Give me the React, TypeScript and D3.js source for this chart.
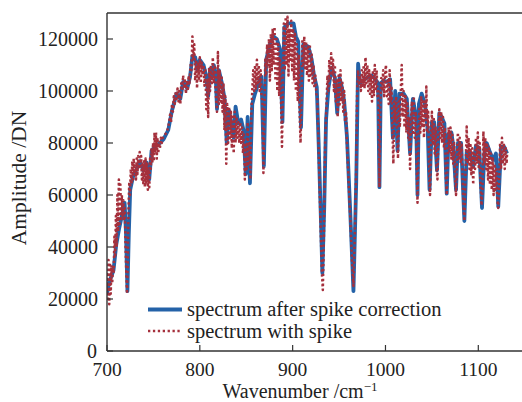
import React from "react";
import * as d3 from "d3";

const xTicks = [700, 800, 900, 1000, 1100];
const yTicks = [0, 20000, 40000, 60000, 80000, 100000, 120000];
const legendLabels = ["spectrum after spike correction", "spectrum with spike"];

// spectrum after spike correction: [wavenumber, amplitude]
const corrected: [number, number][] = [
  [700, 22000], [702, 26000], [704, 28000], [707, 31000], [710, 41000], [713, 47000], [716, 52000],
  [719, 57000], [720.5, 45000], [722, 23000], [723.5, 45000], [725, 62000], [728, 67000], [732, 70000],
  [735.5, 73000], [739, 69500], [742.5, 72500], [745.5, 66000], [748, 77000], [753, 79000], [757, 80000],
  [761, 81500], [766, 85000], [770, 92500], [775, 99000], [779, 97000], [782, 103500], [786.5, 101000],
  [789.5, 105500], [792, 113500], [795, 113000], [797.5, 108000], [800, 112000], [804, 110000],
  [807, 105500], [809, 98000], [811, 108500], [813, 106000], [815, 110000], [817, 107000], [818.5, 93000],
  [820.5, 108000], [823.5, 103500], [826.5, 97500], [829, 80000], [831.5, 92500], [834.5, 86500],
  [836.5, 82000], [838.5, 94000], [841.5, 87500], [844.5, 89000], [847, 85000], [849.5, 68000],
  [851.5, 90000], [854, 64500], [856.5, 95000], [859.5, 99000], [863, 103000], [866.5, 105500],
  [869, 71000], [871.5, 112000], [875.5, 118000], [879, 121000], [883, 120000], [886.5, 116000],
  [889, 88000], [891, 124500], [895, 126000], [901, 126000], [903.5, 121000], [906, 119000], [909, 86000],
  [911.5, 118000], [917, 117000], [920.5, 112000], [923, 106000], [926, 101500], [928, 80000],
  [930.5, 50000], [932, 30000], [934, 55000], [936, 89000], [938.5, 101000], [942, 109000],
  [945.5, 105000], [948, 91500], [950.5, 105000], [953, 101500], [955.5, 96000], [958.5, 82500],
  [962, 54000], [965.5, 23000], [968.5, 65000], [970.5, 110500], [972.5, 103000], [976, 104000],
  [981.5, 105500], [985, 106000], [989, 104500], [992, 103000], [993.5, 63000], [995, 103000],
  [998, 104000], [1001.5, 103500], [1005, 104500], [1008, 82000], [1010.5, 100000], [1013, 77000],
  [1015, 99000], [1019.5, 99000], [1023, 97000], [1026.5, 76000], [1029.5, 97000], [1033, 90000],
  [1034.5, 60000], [1036, 95000], [1039, 99000], [1042.5, 95000], [1045.5, 85000], [1047.5, 62000],
  [1050, 88000], [1052.5, 88000], [1055.5, 69500], [1058, 91500], [1060.5, 90000], [1063.5, 87500],
  [1066, 60500], [1068, 83500], [1071, 84000], [1073, 79000], [1076, 62000], [1078, 80000],
  [1081.5, 80000], [1085, 50000], [1087.5, 76500], [1091, 76000], [1094.5, 71000], [1097.5, 79000],
  [1101, 78000], [1104, 55000], [1106.5, 76000], [1109, 80000], [1112.5, 76500], [1116, 73500],
  [1119, 76000], [1121.5, 55500], [1124.5, 78500], [1128, 78500], [1131, 76000],
];

// spectrum with spike: [wavenumber, amplitude]
const spiked: [number, number][] = [
  [700, 30000], [700.8, 20000], [701.6, 35000], [702.4, 18000], [703.2, 34000], [704, 22000],
  [704.8, 33000], [705.6, 26000], [706.4, 32000], [707.2, 30000], [708, 44000], [708.8, 36000],
  [709.6, 52000], [710.4, 40000], [711.2, 60000], [712, 46000], [712.8, 66000], [713.6, 48000],
  [714.4, 64000], [715.2, 50000], [716, 60000], [716.8, 52000], [717.6, 58000], [718.4, 50000],
  [719.2, 55000], [720, 40000], [720.8, 30000], [721.6, 22000], [722.4, 35000], [723.2, 55000],
  [724, 65000], [724.8, 60000], [725.6, 70000], [726.4, 64000], [727.2, 73000], [728, 66000],
  [728.8, 74000], [729.6, 68000], [730.4, 72000], [731.2, 66000], [732, 74000], [732.8, 68000],
  [733.6, 75000], [734.4, 70000], [735.2, 76500], [736, 71000], [736.8, 75000], [737.6, 66000],
  [738.4, 72000], [739.2, 64000], [740, 73000], [740.8, 63000], [741.6, 74000], [742.4, 64000],
  [743.2, 72000], [744, 62000], [744.8, 70000], [745.6, 63000], [746.4, 74000], [747.2, 70000],
  [748, 78000], [748.8, 72000], [749.6, 80000], [750.4, 73000], [751.2, 84000], [752, 76000],
  [752.8, 84000], [753.6, 74000], [754.4, 82000], [755.2, 76000], [756, 80000], [757, 78000],
  [758, 82000], [759, 80000], [760, 82000], [762, 83000], [764, 84000], [766, 86000], [768, 91000],
  [769, 88000], [770, 95000], [771, 92000], [772, 98000], [773, 95000], [774, 100000], [775, 97000],
  [776, 101000], [777, 96000], [778, 100000], [779, 95000], [780, 103000], [781, 100000], [782, 106000],
  [783, 101000], [784, 104000], [785, 99000], [786, 104000], [787, 100000], [788, 106000], [789, 103000],
  [790, 110000], [791, 108000], [792, 121000], [793, 112000], [794, 118000], [795, 104000], [796, 112000],
  [797, 101000], [798, 111000], [799, 104000], [800, 113000], [801, 103000], [802, 111000], [803, 106000],
  [804, 110000], [805, 102000], [806, 108000], [807, 93000], [808, 104000], [809, 90000], [810, 109000],
  [811, 100000], [812, 110000], [813, 103000], [814, 113000], [815, 103000], [816, 110000], [817, 100000],
  [818.5, 92000], [819.5, 115000], [820.5, 95000], [821.5, 108000], [822.5, 96000], [823.5, 106000],
  [824.5, 92000], [825.5, 103000], [826.5, 85000], [827.5, 98000], [828.5, 72000], [829.5, 95000],
  [830.5, 80000], [831.5, 94000], [832.5, 82000], [833.5, 92000], [834.5, 78000], [835.5, 90000],
  [836.5, 76000], [837.5, 92000], [838.5, 80000], [839.5, 90000], [840.5, 82000], [841.5, 88000],
  [842.5, 80000], [843.5, 88000], [844.5, 80000], [845.5, 86000], [846.5, 76000], [847.5, 84000],
  [848.5, 66000], [849.5, 80000], [850.5, 70000], [851.5, 88000], [852.5, 72000], [853.5, 80000],
  [854.5, 66000], [855.5, 92000], [856.5, 100000], [857.5, 108000], [858.5, 100000], [859.5, 110000],
  [860.5, 101000], [861.5, 112000], [862.5, 103000], [863.5, 110000], [864.5, 100000], [865.5, 108000],
  [866.5, 98000], [867.5, 96000], [868.5, 68500], [869.5, 90000], [870.5, 112000], [871.5, 106000],
  [872.5, 118000], [873.5, 110000], [874.5, 120000], [875.5, 104000], [876.5, 122000], [877.5, 108000],
  [878.5, 124000], [879.5, 110000], [880.5, 124700], [881.5, 104000], [882.5, 120000], [883.5, 100000],
  [884.5, 118000], [885.5, 98000], [886.5, 112000], [887.5, 96000], [888.5, 78600], [889.5, 100000],
  [890.5, 126000], [891.5, 108000], [892.5, 128500], [893.5, 110000], [894.5, 128600], [895.5, 106000],
  [896.5, 124000], [897.5, 112000], [898.5, 127000], [899.5, 108000], [900.5, 124000], [901.5, 104000],
  [902.5, 122000], [903.5, 100000], [904.5, 118000], [905.5, 96000], [906.5, 114000], [907.5, 92000],
  [908.5, 80000], [909.5, 96000], [910.5, 120000], [911.5, 110000], [912.5, 121000], [913.5, 108000],
  [914.5, 119000], [915.5, 106000], [916.5, 117000], [917.5, 104000], [918.5, 118000], [919.5, 106000],
  [920.5, 114000], [921.5, 103000], [922.5, 110000], [923.5, 101000], [924.5, 106000], [925.5, 99000],
  [926.5, 98000], [928, 78000], [930, 50000], [931.5, 30000], [932.5, 23500], [933.5, 40000],
  [935, 80000], [936.5, 95000], [937.5, 106000], [938.5, 100000], [939.5, 112000], [940.5, 104000],
  [941.5, 114500], [942.5, 106000], [943.5, 112000], [944.5, 100000], [945.5, 110000], [946.5, 96000],
  [947.5, 104000], [948.5, 90000], [949.5, 106000], [950.5, 94000], [951.5, 108000], [952.5, 96000],
  [953.5, 104000], [954.5, 92000], [955.5, 100000], [956.5, 88000], [957.5, 92000], [958.5, 80000],
  [960, 68000], [962, 52000], [964, 34000], [965.5, 25000], [967, 45000], [968.5, 70000], [969.5, 100000],
  [970.5, 108000], [971.5, 102000], [972.5, 106000], [973.5, 100000], [974.5, 108000], [975.5, 102000],
  [976.5, 110000], [977.5, 101000], [978.5, 113000], [979.5, 103000], [980.5, 110000], [981.5, 100000],
  [982.5, 108000], [983.5, 98000], [984.5, 106000], [985.5, 96000], [986.5, 108000], [987.5, 98000],
  [988.5, 110000], [989.5, 100000], [990.5, 108000], [991.5, 98000], [992.5, 100000], [993.5, 63000],
  [994.5, 95000], [995.5, 105000], [996.5, 100000], [997.5, 108000], [998.5, 98000], [999.5, 106000],
  [1000.5, 110000], [1001.5, 98000], [1002.5, 104000], [1003.5, 95000], [1004.5, 108000], [1005.5, 96000],
  [1006.5, 102000], [1007.5, 85000], [1008.5, 72000], [1009.5, 96000], [1010.5, 88000], [1011.5, 98000],
  [1012.5, 84000], [1013.5, 74000], [1014.5, 96000], [1015.5, 86000], [1016.5, 100000], [1017.5, 110000],
  [1018.5, 90000], [1019.5, 100000], [1020.5, 86000], [1021.5, 98000], [1022.5, 84000], [1023.5, 96000],
  [1024.5, 82000], [1025.5, 90000], [1026.5, 70000], [1027.5, 88000], [1028.5, 96000], [1029.5, 84000],
  [1030.5, 98000], [1031.5, 82000], [1032.5, 92000], [1033.5, 76000], [1034.5, 57000], [1035.5, 80000],
  [1036.5, 94000], [1037.5, 84000], [1038.5, 98000], [1039.5, 86000], [1040.5, 96000], [1041.5, 82000],
  [1042.5, 96000], [1043.5, 90000], [1044, 101700], [1045, 84000], [1046, 92000], [1047, 70000],
  [1048, 60000], [1049, 80000], [1050, 92000], [1051, 80000], [1052, 90000], [1053, 76000], [1054, 86000],
  [1055, 70000], [1056, 66000], [1057, 84000], [1058, 93000], [1059, 82000], [1060, 92000], [1061, 80000],
  [1062, 90000], [1063, 78000], [1064, 86000], [1065, 68000], [1066, 60000], [1067, 74000], [1068, 86000],
  [1069, 76000], [1070, 86000], [1071, 74000], [1072, 84000], [1073, 72000], [1074, 80000], [1075, 66000],
  [1076, 60000], [1077, 74000], [1078, 84000], [1079, 74000], [1080, 82000], [1081, 72000], [1082, 80000],
  [1083, 68000], [1084, 56000], [1085, 50000], [1086, 66000], [1087.5, 86300], [1088.5, 72000],
  [1089.5, 82000], [1090.5, 70000], [1091.5, 80000], [1092.5, 68000], [1093.5, 78000], [1094.5, 64000],
  [1095.5, 76000], [1096.5, 70000], [1097.5, 82000], [1098.5, 72000], [1099.5, 84000], [1100.5, 70000],
  [1101.5, 80000], [1102.5, 64000], [1103.5, 56000], [1104.5, 62000], [1105.5, 84500], [1106.5, 72000],
  [1107.5, 82000], [1108.5, 70000], [1109.5, 80000], [1110.5, 66000], [1111.5, 78000], [1112.5, 64000],
  [1113.5, 76000], [1114.5, 62000], [1115.5, 74000], [1116.5, 60000], [1117.5, 72000], [1118.5, 62000],
  [1119.5, 70000], [1120.5, 58000], [1121.5, 55000], [1122.5, 66000], [1123.5, 80000], [1124.5, 70000],
  [1125.5, 82000], [1126.5, 72000], [1127.5, 80000], [1128.5, 70000], [1129.5, 78000], [1130.5, 72000],
  [1131, 76000],
];

const W = 522;
const H = 402;
const left = 107;
const top = 13;
const bottom = 351;
const FONT = "'Liberation Serif', 'DejaVu Serif', serif";
const AXIS = "#333";
const BLUE = "#2462a8";
const RED = "#a5303c";

export default function App() {
  const x = d3.scaleLinear().domain([700, 1100]).range([left, 478.3]);
  const y = d3.scaleLinear().domain([0, 130000]).range([bottom, top]);
  const line = d3
    .line<[number, number]>()
    .x((d) => x(d[0]))
    .y((d) => y(d[1]));

  return (
    <svg
      width={W}
      height={H}
      style={{ position: "absolute", left: 0, top: 0, background: "#fff" }}
      fontFamily={FONT}
    >
      <defs>
        <clipPath id="plot">
          <rect x={left} y={top} width={W - left} height={bottom - top} />
        </clipPath>
      </defs>
      <g clipPath="url(#plot)">
        <path d={line(corrected) || ""} fill="none" stroke={BLUE} strokeWidth={3.8} strokeLinejoin="round" />
        <path
          d={line(spiked) || ""}
          fill="none"
          stroke={RED}
          strokeWidth={2.5}
          strokeDasharray="2.3,2.6"
          strokeLinejoin="round"
        />
      </g>
      {/* frame */}
      <line x1={left} x2={W} y1={top} y2={top} stroke={AXIS} strokeWidth={1.4} />
      <line x1={left} x2={W} y1={bottom} y2={bottom} stroke={AXIS} strokeWidth={1.4} />
      <line x1={left} x2={left} y1={top} y2={bottom} stroke={AXIS} strokeWidth={1.4} />
      {/* x ticks */}
      {xTicks.map((t) => (
        <g key={"x" + t}>
          <line x1={x(t)} x2={x(t)} y1={bottom} y2={bottom - 6} stroke={AXIS} strokeWidth={1.2} />
          <text x={x(t)} y={375.5} textAnchor="middle" fontSize={19.5} fill="#222">
            {t}
          </text>
        </g>
      ))}
      {/* y ticks */}
      {yTicks.map((t) => (
        <g key={"y" + t}>
          <line x1={left} x2={left + 6} y1={y(t)} y2={y(t)} stroke={AXIS} strokeWidth={1.2} />
          <text x={t === 0 ? 97 : 98} y={y(t) + 6.5} textAnchor="end" fontSize={20} fill="#222">
            {t}
          </text>
        </g>
      ))}
      {/* axis labels */}
      <text x={300} y={397.5} textAnchor="middle" fontSize={20} fill="#222">
        Wavenumber /cm
        <tspan fontSize={13} dy={-7}>−1</tspan>
      </text>
      <text
        transform={`translate(26, ${178}) rotate(-90)`}
        textAnchor="middle"
        fontSize={21.5}
        fill="#222"
      >
        Amplitude /DN
      </text>
      {/* legend */}
      <line x1={148} x2={182} y1={309.5} y2={309.5} stroke={BLUE} strokeWidth={3.8} />
      <line x1={148} x2={182} y1={331} y2={331} stroke={RED} strokeWidth={2.5} strokeDasharray="2.3,2.6" />
      <text x={187} y={315.5} fontSize={20.5} fill="#222">
        {legendLabels[0]}
      </text>
      <text x={187} y={337.5} fontSize={20.5} fill="#222">
        {legendLabels[1]}
      </text>
    </svg>
  );
}
